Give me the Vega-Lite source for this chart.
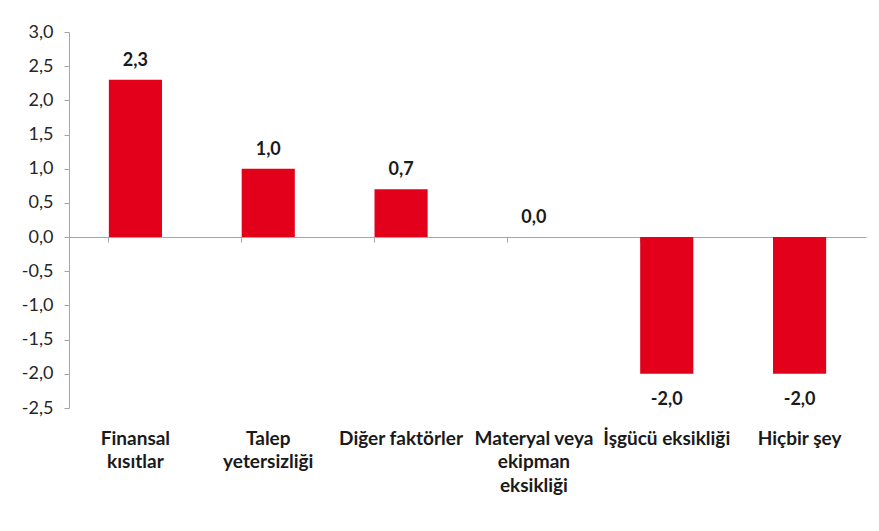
{
  "$schema": "https://vega.github.io/schema/vega-lite/v6.json",
  "width": 797,
  "height": 376,
  "autosize": "none",
  "padding": {"left": 69, "top": 32, "right": 13, "bottom": 123},
  "background": "white",
  "config": {
    "view": {"stroke": null},
    "font": "Lato",
    "locale": {"number": {"decimal": ",", "thousands": ".", "grouping": [3], "currency": ["", " TL"], "minus": "-"}}
  },
  "data": {
    "values": [
      {"kategori": "Finansal kısıtlar", "deger": 2.3},
      {"kategori": "Talep yetersizliği", "deger": 1.0},
      {"kategori": "Diğer faktörler", "deger": 0.7},
      {"kategori": "Materyal veya ekipman eksikliği", "deger": 0.0},
      {"kategori": "İşgücü eksikliği", "deger": -2.0},
      {"kategori": "Hiçbir şey", "deger": -2.0}
    ]
  },
  "encoding": {
    "y": {
      "field": "deger",
      "type": "quantitative",
      "scale": {"domain": [-2.5, 3.0], "nice": false, "zero": false},
      "axis": {
        "title": null,
        "values": [-2.5, -2, -1.5, -1, -0.5, 0, 0.5, 1, 1.5, 2, 2.5, 3],
        "format": ".1f",
        "grid": false,
        "labelOverlap": false,
        "labelFlush": false,
        "domainColor": "#a6a6a6",
        "tickColor": "#a6a6a6",
        "tickSize": 5,
        "labelPadding": 11,
        "labelFont": "Lato",
        "labelFontSize": 18,
        "labelColor": "#262626"
      }
    }
  },
  "layer": [
    {
      "mark": {"type": "bar", "color": "#e2001a"},
      "encoding": {
        "x": {
          "field": "kategori",
          "type": "nominal",
          "sort": null,
          "scale": {"paddingInner": 0.6, "paddingOuter": 0.3},
          "axis": {
            "title": null,
            "orient": "bottom",
            "domain": false,
            "ticks": false,
            "labelAngle": 0,
            "labelOverlap": false,
            "labelFont": "Lato",
            "labelFontWeight": "bold",
            "labelFontSize": 19,
            "labelColor": "#1a1a1a",
            "labelPadding": 21,
            "labelLineHeight": 23.5,
            "labelBaseline": "top",
            "labelLimit": 300,
            "labelExpr": "datum.value == 'Finansal kısıtlar' ? ['Finansal', 'kısıtlar'] : datum.value == 'Talep yetersizliği' ? ['Talep', 'yetersizliği'] : datum.value == 'Materyal veya ekipman eksikliği' ? ['Materyal veya', 'ekipman', 'eksikliği'] : datum.value"
          }
        }
      }
    },
    {
      "mark": {"type": "text", "baseline": "alphabetic", "dy": -14, "font": "Lato", "fontWeight": "bold", "fontSize": 18, "color": "#1a1a1a"},
      "transform": [{"filter": "datum.deger >= 0"}],
      "encoding": {
        "x": {
          "field": "kategori",
          "type": "nominal",
          "sort": null,
          "axis": {
            "title": null,
            "orient": "bottom",
            "labels": false,
            "domain": true,
            "domainColor": "#a6a6a6",
            "ticks": true,
            "tickColor": "#a6a6a6",
            "tickSize": 5,
            "bandPosition": 0,
            "offset": -171
          }
        },
        "text": {"field": "deger", "type": "quantitative", "format": ".1f"}
      }
    },
    {
      "mark": {"type": "text", "baseline": "alphabetic", "dy": 31, "font": "Lato", "fontWeight": "bold", "fontSize": 18, "color": "#1a1a1a"},
      "transform": [{"filter": "datum.deger < 0"}],
      "encoding": {
        "x": {"field": "kategori", "type": "nominal", "sort": null, "axis": null},
        "text": {"field": "deger", "type": "quantitative", "format": ".1f"}
      }
    }
  ],
  "resolve": {"axis": {"x": "independent"}}
}
